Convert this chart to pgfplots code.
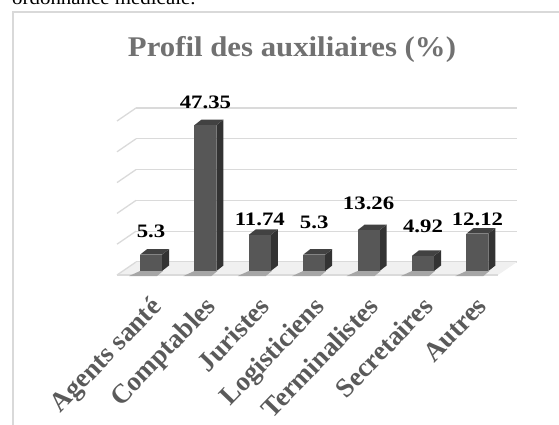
\documentclass[border=0pt]{standalone}
\usepackage{fontspec}
\setmainfont{Liberation Serif}
\usepackage{graphicx}
\usepackage{pgfplots}
\usepackage{pgfplotstable}
\pgfplotsset{compat=1.18}
\definecolor{barfront}{HTML}{575757}
\definecolor{barside}{HTML}{333333}
\definecolor{bartop}{HTML}{424242}
\definecolor{titlegray}{HTML}{717171}
\definecolor{tickgray}{HTML}{5A5A5A}
\definecolor{gridgray}{HTML}{DADADA}
\definecolor{bordergray}{HTML}{D9D9D9}

% x: category, v: value, ly: height (in value units) of the label's baseline
\pgfplotstableread{
x v ly
0 5.3 11.0
1 47.35 52.6
2 11.74 14.9
3 5.3 13.9
4 13.26 20.1
5 4.92 12.6
6 12.12 14.9
}\data

\pgfdeclareplotmark{bar3d}{%
  \pgfmathsetlengthmacro\hh{\barval*3.08pt}%
  % shadow
  \pgfsetfillcolor{black!35}%
  \pgfpathmoveto{\pgfpoint{-11pt}{-\hh}}%
  \pgfpathlineto{\pgfpoint{12pt}{-\hh}}%
  \pgfpathlineto{\pgfpointadd{\pgfpoint{6pt}{-\hh}}{\pgfpoint{0pt}{-5pt}}}%
  \pgfpathlineto{\pgfpointadd{\pgfpoint{-22pt}{-\hh}}{\pgfpoint{0pt}{-5pt}}}%
  \pgfpathclose
  \pgfusepathqfill
  % side
  \pgfsetfillcolor{barside}%
  \pgfpathmoveto{\pgfpoint{11pt}{-\hh}}%
  \pgfpathlineto{\pgfpointadd{\pgfpoint{18pt}{-\hh}}{\pgfpoint{0pt}{5.5pt}}}%
  \pgfpathlineto{\pgfpoint{18pt}{5.5pt}}%
  \pgfpathlineto{\pgfpoint{11pt}{0pt}}%
  \pgfpathclose
  \pgfusepathqfill
  % top
  \pgfsetfillcolor{bartop}%
  \pgfpathmoveto{\pgfpoint{-11pt}{0pt}}%
  \pgfpathlineto{\pgfpoint{11pt}{0pt}}%
  \pgfpathlineto{\pgfpoint{18pt}{5.5pt}}%
  \pgfpathlineto{\pgfpoint{-4pt}{5.5pt}}%
  \pgfpathclose
  \pgfusepathqfill
  % front
  \pgfsetfillcolor{barfront}%
  \pgfpathrectangle{\pgfpoint{-11pt}{-\hh}}{\pgfpoint{22pt}{\hh}}%
  \pgfusepathqfill
}

\begin{document}
\begin{tikzpicture}[x=1pt,y=1pt]
\useasboundingbox (0,0) rectangle (559,424);
\clip (0,0) rectangle (559,424);
% text line of the page above the chart
\node[anchor=base west, inner sep=0pt, font=\fontsize{19}{23}\selectfont] at (12,419) {\scalebox{1.1}[1]{ordonnance médicale.}};
% chart frame
\draw[bordergray, line width=1.6pt] (13,-5) -- (13,412) -- (570,412);
% title
\node[anchor=base, inner sep=0pt, text=titlegray, font=\bfseries\fontsize{28.5}{32}\selectfont] at (292,367) {\scalebox{1.08}[1]{Profil des auxiliaires (\%)}};

% back wall with gridlines and floor
\begin{axis}[
  at={(136pt,162pt)}, anchor=origin,
  scale only axis, width=381pt, height=154pt,
  xmin=0, xmax=1, ymin=0, ymax=50,
  ytick={0,10,...,50}, yticklabels={}, xtick=\empty,
  ymajorgrids, grid style={gridgray, line width=1.3pt},
  axis line style={draw=none}, major tick length=0pt,
  clip=false,
]
\fill[black!6] (axis cs:0,0) -- (axis cs:1,0) -- ++(-19pt,-13pt) -- ([shift={(-19pt,-13pt)}]axis cs:0,0) -- cycle;
\draw[gridgray, line width=1.3pt] ([shift={(-19pt,-13pt)}]axis cs:0,0) -- ([shift={(-19pt,-13pt)}]axis cs:1,0);
\pgfplotsinvokeforeach{0,10,...,50}{
  \draw[gridgray, line width=1.3pt] (axis cs:0,#1) -- ++(-19pt,-13pt);
}
\end{axis}

% bars
\begin{axis}[
  at={(151pt,153pt)}, anchor=origin,
  scale only axis, width=380.8pt, height=154pt,
  xmin=-0.5, xmax=6.5, ymin=0, ymax=50,
  ytick=\empty, xtick={0,...,6},
  xticklabels={Agents santé, Comptables, Juristes, Logisticiens, Terminalistes, Secretaires, Autres},
  xticklabel style={yshift=-24pt, xshift=-2pt, rotate=46, anchor=north east, inner sep=0pt,
    text=tickgray, font=\bfseries\fontsize{27}{30}\selectfont},
  axis line style={draw=none}, major tick length=0pt,
  clip=false,
]
\addplot[scatter, only marks, mark=bar3d,
  visualization depends on={\thisrow{v} \as \barval},
  point meta=\thisrow{v},
] table[x=x, y=v] {\data};
\addplot[draw=none, mark=none,
  point meta=explicit symbolic,
  nodes near coords={\scalebox{1.2}[1]{\pgfplotspointmeta}},
  every node near coord/.append style={anchor=base, inner sep=0pt, text=black,
    font=\bfseries\fontsize{19}{21}\selectfont},
] table[x=x, y=ly, meta=v] {\data};
\end{axis}
\end{tikzpicture}
\end{document}
